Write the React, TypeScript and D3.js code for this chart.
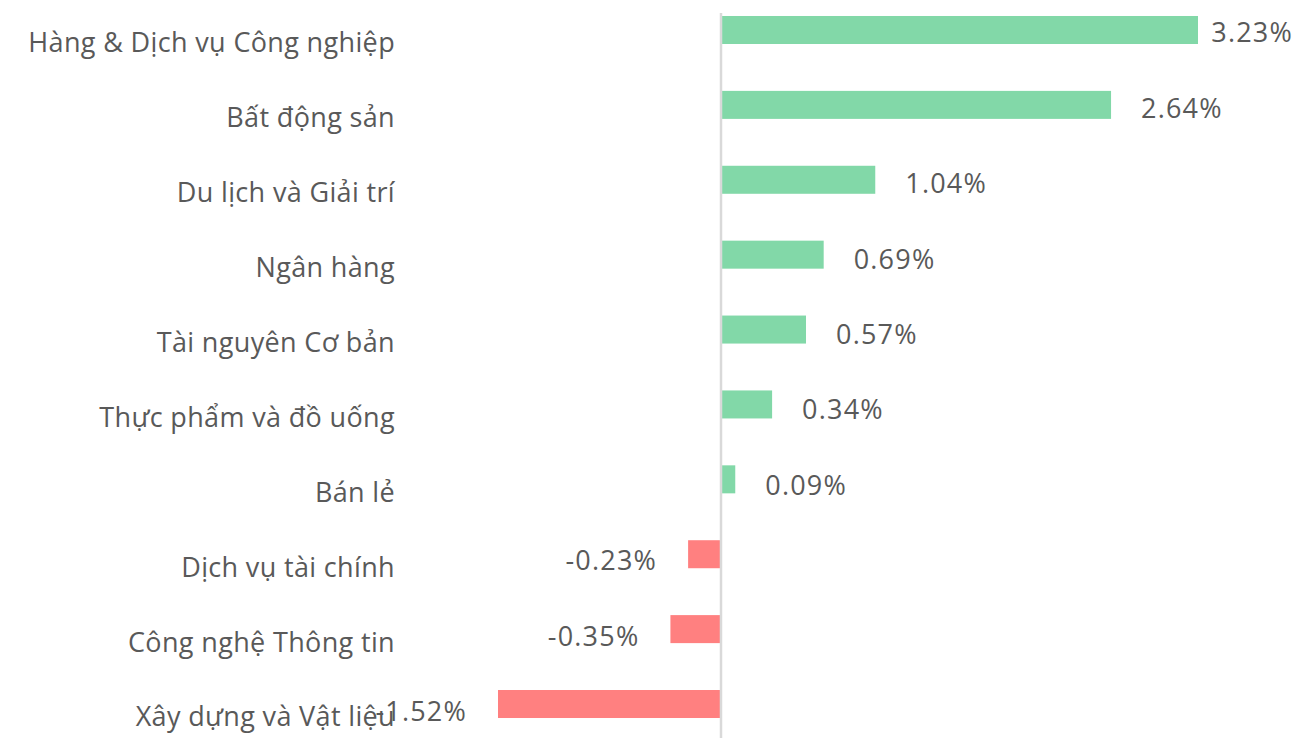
import React, { useEffect, useRef } from "react";
import * as d3 from "d3";

const categories = [
  "Hàng & Dịch vụ Công nghiệp",
  "Bất động sản",
  "Du lịch và Giải trí",
  "Ngân hàng",
  "Tài nguyên Cơ bản",
  "Thực phẩm và đồ uống",
  "Bán lẻ",
  "Dịch vụ tài chính",
  "Công nghệ Thông tin",
  "Xây dựng và Vật liệu",
];
const values = [3.23, 2.64, 1.04, 0.69, 0.57, 0.34, 0.09, -0.23, -0.35, -1.52];

const W = 1299;
const H = 738;
const FONT = "'Open Sans', sans-serif";

export default function App() {
  const ref = useRef<SVGSVGElement>(null);
  useEffect(() => {
    const svg = d3.select(ref.current);
    svg.selectAll("*").remove();
    const x = d3.scaleLinear().domain([0, 3.23]).range([722, 1198]);
    const y = d3
      .scaleBand<string>()
      .domain(categories)
      .range([-7.45, 741.45])
      .paddingInner(0.626)
      .paddingOuter(0.313);
    const data = categories.map((c, i) => ({ c, v: values[i] }));

    svg
      .append("g")
      .selectAll("rect")
      .data(data)
      .join("rect")
      .attr("x", (d) => Math.min(x(0), x(d.v)))
      .attr("width", (d) => Math.abs(x(d.v) - x(0)))
      .attr("y", (d) => y(d.c)!)
      .attr("height", y.bandwidth())
      .attr("fill", (d) => (d.v >= 0 ? "#82d8a8" : "#ff8080"));

    svg
      .append("line")
      .attr("x1", x(0) - 1)
      .attr("x2", x(0) - 1)
      .attr("y1", 13)
      .attr("y2", H)
      .attr("stroke", "#d9d9d9")
      .attr("stroke-width", 2.5);

    const vl = svg
      .append("g")
      .selectAll("text")
      .data(data)
      .join("text")
      .attr("font-family", FONT)
      .attr("font-size", 27)
      .attr("letter-spacing", 1.2)
      .attr("fill", "#595959")
      .attr("y", (d, i) => y(d.c)! + y.bandwidth() / 2 + 3 + i * 0.5)
      .attr("dy", "0.35em")
      .text((d) => d.v.toFixed(2) + "%");
    vl.each(function (d) {
      const t = this as SVGTextElement;
      const w = t.getComputedTextLength();
      if (d.v >= 0) {
        let sx = x(d.v) + 30;
        if (sx + w > W - 6) sx = W - 6 - w;
        d3.select(t).attr("x", sx).attr("text-anchor", "start");
      } else {
        d3.select(t).attr("x", x(d.v) - 31).attr("text-anchor", "end");
      }
    });

    svg
      .append("g")
      .selectAll("text")
      .data(data)
      .join("text")
      .attr("font-family", FONT)
      .attr("font-size", 27)
      .attr("letter-spacing", 0.35)
      .attr("fill", "#595959")
      .attr("x", 395)
      .attr("text-anchor", "end")
      .attr("y", (d) => y(d.c)! + y.bandwidth() / 2 + 13)
      .attr("dy", "0.35em")
      .text((d) => d.c);
  }, []);
  return (
    <svg
      ref={ref}
      width={W}
      height={H}
      style={{ position: "absolute", left: 0, top: 0, background: "#fff", display: "block" }}
    />
  );
}
